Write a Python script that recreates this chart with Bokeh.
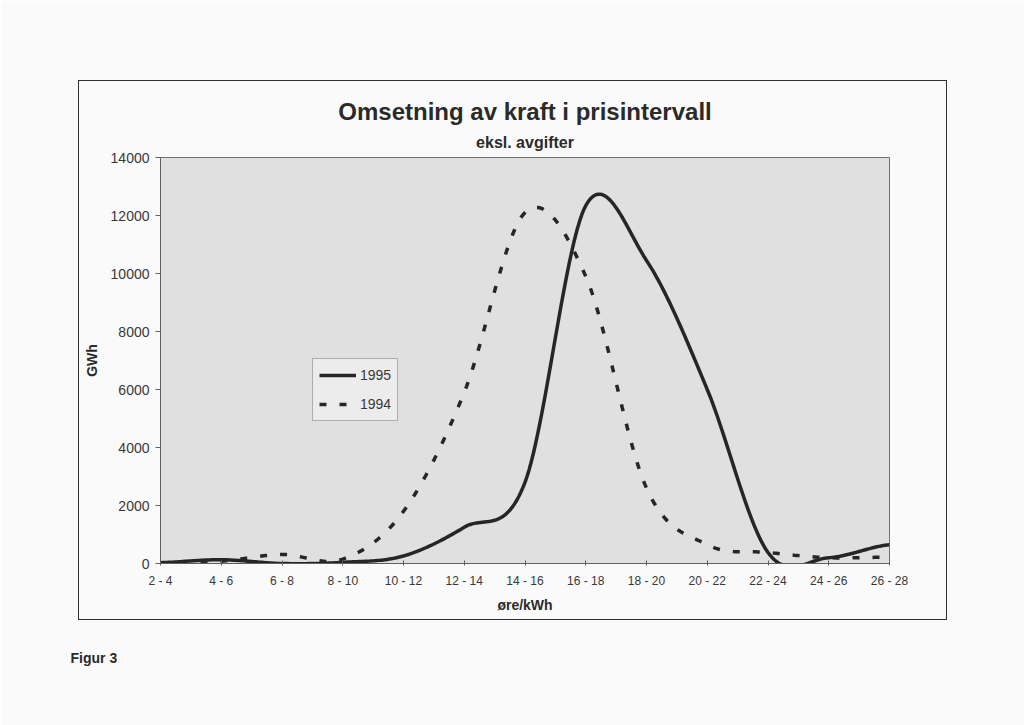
import numpy as np
from bokeh.plotting import figure
from bokeh.models import (Range1d, FixedTicker, Title, Legend, LegendItem, InlineStyleSheet)
from bokeh.embed import file_html
from bokeh.resources import INLINE

# ---- data ----
categories = ["2 - 4", "4 - 6", "6 - 8", "8 - 10", "10 - 12", "12 - 14", "14 - 16",
              "16 - 18", "18 - 20", "20 - 22", "22 - 24", "24 - 26", "26 - 28"]
gwh_1995 = [30, 130, 0, 40, 260, 1250, 2800, 12340, 10450, 6000, 380, 200, 650]
gwh_1994 = [0, 80, 310, 150, 1800, 5900, 12100, 9900, 2600, 650, 380, 200, 220]
y_ticks = [0, 2000, 4000, 6000, 8000, 10000, 12000, 14000]


def smooth(values, steps=30):
    """Excel-style smoothed line (uniform Catmull-Rom through the points)."""
    v = np.asarray(values, dtype=float)
    n = len(v)
    p = np.concatenate([[v[0]], v, [v[-1]]])
    xs, ys = [], []
    for i in range(n - 1):
        p0, p1, p2, p3 = p[i], p[i + 1], p[i + 2], p[i + 3]
        m1 = (p2 - p0) / 2.0
        m2 = (p3 - p1) / 2.0
        t = np.linspace(0, 1, steps, endpoint=(i == n - 2))
        h00 = 2 * t**3 - 3 * t**2 + 1
        h10 = t**3 - 2 * t**2 + t
        h01 = -2 * t**3 + 3 * t**2
        h11 = t**3 - t**2
        xs.append(i + t)
        ys.append(h00 * p1 + h10 * m1 + h01 * p2 + h11 * m2)
    return np.concatenate(xs), np.concatenate(ys)


W, H = 1024, 725
FL, FR, FT, FB = 160, 889, 157, 563   # frame edges in canvas px

box_css = """
:host { position: relative; }
:host::after {
  content: "";
  position: absolute;
  left: 78px; top: 80px; width: 867px; height: 538px;
  border: 1.5px solid #303030;
  pointer-events: none;
}
"""

p = figure(width=W, height=H, output_backend="svg", toolbar_location=None,
           x_range=Range1d(0, len(categories) - 1), y_range=Range1d(0, 14000),
           min_border_left=FL, min_border_right=W - FR,
           min_border_top=FT, min_border_bottom=H - FB)
p.stylesheets = [InlineStyleSheet(css=box_css)]

p.background_fill_color = "#e0e0e0"
p.border_fill_color = "#fafafa"
p.outline_line_color = "#707070"
p.outline_line_width = 1
p.xgrid.visible = False
p.ygrid.visible = False

font = "Liberation Sans"
txt = "#383838"
dark = "#2a2a2a"

# axes
p.xaxis.ticker = FixedTicker(ticks=list(range(len(categories))))
p.xaxis.major_label_overrides = {i: c for i, c in enumerate(categories)}
p.xaxis.major_label_text_font = font
p.xaxis.major_label_text_font_size = "12px"
p.xaxis.major_label_text_color = txt
p.xaxis.major_label_standoff = 8
p.xaxis.major_tick_in = 3
p.xaxis.major_tick_out = 2
p.xaxis.minor_tick_line_color = None
p.xaxis.axis_line_color = "#606060"
p.xaxis.major_tick_line_color = "#606060"
p.xaxis.axis_label = "øre/kWh"
p.xaxis.axis_label_text_font = font
p.xaxis.axis_label_text_font_size = "14px"
p.xaxis.axis_label_text_font_style = "bold"
p.xaxis.axis_label_text_color = dark
p.xaxis.axis_label_standoff = 6

p.yaxis.ticker = FixedTicker(ticks=y_ticks)
p.yaxis.major_label_text_font = font
p.yaxis.major_label_text_font_size = "14px"
p.yaxis.major_label_text_color = txt
p.yaxis.major_label_standoff = 6
p.yaxis.major_tick_in = 0
p.yaxis.major_tick_out = 5
p.yaxis.minor_tick_line_color = None
p.yaxis.axis_line_color = "#606060"
p.yaxis.major_tick_line_color = "#606060"
p.yaxis.axis_label = "GWh"
p.yaxis.axis_label_text_font = font
p.yaxis.axis_label_text_font_size = "14px"
p.yaxis.axis_label_text_font_style = "bold"
p.yaxis.axis_label_text_color = dark
p.yaxis.axis_label_standoff = 8

# lines
x95, y95 = smooth(gwh_1995)
x94, y94 = smooth(gwh_1994)
r95 = p.line(x95, y95, line_color="#262626", line_width=3.5, line_join="round")
r94 = p.line(x94, y94, line_color="#262626", line_width=3.5, line_dash="7 13",
             line_cap="butt")

legend = Legend(items=[LegendItem(label="1995", renderers=[r95]),
                       LegendItem(label="1994", renderers=[r94])],
                location=(152, 142), orientation="vertical",
                glyph_width=37, glyph_height=20, label_height=20,
                label_standoff=4, spacing=9, padding=6, margin=0,
                label_text_font=font, label_text_font_size="14px",
                label_text_color=txt,
                border_line_color="#707070", border_line_width=1,
                background_fill_color="#ececec", background_fill_alpha=1)
p.add_layout(legend, "center")

# titles (first added 'above' sits closest to the plot area)
p.add_layout(Title(text="eksl. avgifter", align="center", text_font=font,
                   text_font_size="16px", text_font_style="bold",
                   text_color=dark, standoff=13), "above")
p.add_layout(Title(text="Omsetning av kraft i prisintervall", align="center",
                   text_font=font, text_font_size="24px", text_font_style="bold",
                   text_color=dark, standoff=2), "above")
p.add_layout(Title(text="Figur 3", align="left", offset=-90, text_font=font,
                   text_font_size="14px", text_font_style="bold",
                   text_color=dark, standoff=64), "below")

open("out.html", "w").write(file_html(p, INLINE))
